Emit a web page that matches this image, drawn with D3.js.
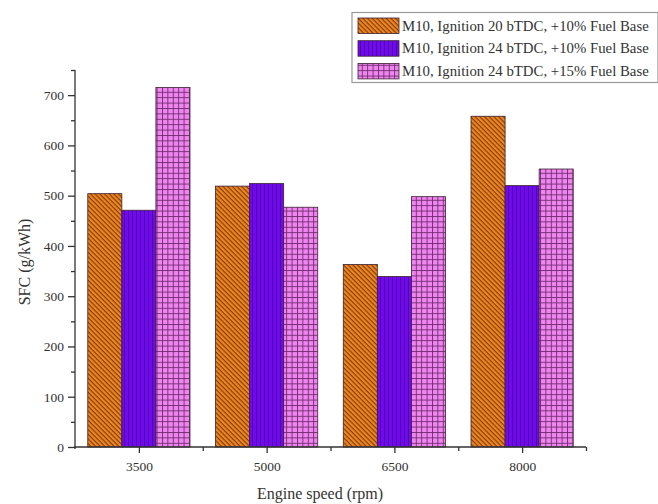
<!DOCTYPE html>
<html><head><meta charset="utf-8">
<script src="https://cdn.jsdelivr.net/npm/d3@7"></script>
<style>body{margin:0;background:#fff}svg{display:block}text{font-family:"Liberation Serif","Times New Roman",serif;}</style>
</head><body>
<svg id="c" width="658" height="504"></svg>
<script>
const categories = [3500, 5000, 6500, 8000];
const seriesNames = [
  "M10, Ignition 20 bTDC, +10% Fuel Base",
  "M10, Ignition 24 bTDC, +10% Fuel Base",
  "M10, Ignition 24 bTDC, +15% Fuel Base"
];
const series1 = [504, 519, 363, 658];
const series2 = [471, 524, 339, 520];
const series3 = [715, 477, 498, 553];
const yTicks = [0, 100, 200, 300, 400, 500, 600, 700];
const yMinorTicks = [50, 150, 250, 350, 450, 550, 650, 750];
const xMinorTicks = [4250, 5750, 7250, 8750];
const allSeries = [series1, series2, series3];

const svg = d3.select("#c");
const x = d3.scaleLinear().domain([2750, 8750]).range([75, 586]);
const y = d3.scaleLinear().domain([0, 750]).range([447, 70]);
const barW = 400; // in rpm units

const defs = svg.append("defs");
// orange diagonal hatch
const p1 = defs.append("pattern").attr("id","p0").attr("patternUnits","userSpaceOnUse")
  .attr("width",3.3).attr("height",3.3).attr("patternTransform","rotate(45)");
p1.append("rect").attr("width",3.3).attr("height",3.3).attr("fill","#f08620");
p1.append("line").attr("x1",0).attr("x2",3.3).attr("y1",0.6).attr("y2",0.6).attr("stroke","#6e3208").attr("stroke-width",1);
// purple vertical lines
const p2 = defs.append("pattern").attr("id","p1").attr("patternUnits","userSpaceOnUse")
  .attr("width",4).attr("height",4);
p2.append("rect").attr("width",4).attr("height",4).attr("fill","#7108f0");
p2.append("line").attr("x1",0.5).attr("x2",0.5).attr("y1",0).attr("y2",4).attr("stroke","#4a049e").attr("stroke-width",0.9);
// pink grid
const p3 = defs.append("pattern").attr("id","p2").attr("patternUnits","userSpaceOnUse")
  .attr("width",5.4).attr("height",5.4);
p3.append("rect").attr("width",5.4).attr("height",5.4).attr("fill","#ef85ee");
p3.append("path").attr("d","M0.5,0V5.4M0,0.5H5.4").attr("stroke","#6e2a6e").attr("stroke-width",0.9).attr("fill","none");

// bars
allSeries.forEach((vals, si) => {
  svg.append("g").selectAll("rect").data(categories).join("rect")
    .attr("x", (c) => x(c + (si - 1.5) * barW))
    .attr("width", x(barW) - x(0))
    .attr("y", (c, i) => y(vals[i]))
    .attr("height", (c, i) => y(0) - y(vals[i]))
    .attr("fill", `url(#p${si})`)
    .attr("stroke", "#3a2030").attr("stroke-width", 0.8);
});

// y axis
const gy = svg.append("g").attr("transform","translate(75,0)")
  .call(d3.axisLeft(y).tickValues(yTicks).tickSize(7).tickPadding(4));
svg.append("g").attr("transform","translate(75,0)")
  .call(d3.axisLeft(y).tickValues(yMinorTicks).tickSize(4).tickFormat(""))
  .select(".domain").remove();
gy.select(".domain").attr("d","M0,70V449");
// x axis
const gx = svg.append("g").attr("transform","translate(0,447)")
  .call(d3.axisBottom(x).tickValues(categories).tickSize(6).tickPadding(8).tickFormat(d3.format("d")));
svg.append("g").attr("transform","translate(0,447)")
  .call(d3.axisBottom(x).tickValues(xMinorTicks).tickSize(4).tickFormat(""))
  .select(".domain").remove();
gx.select(".domain").attr("d","M74,0H586");
svg.selectAll(".tick text").attr("font-size",13.5).attr("fill","#333").attr("font-family","Liberation Serif");
svg.selectAll(".domain, .tick line").attr("stroke","#333").attr("stroke-width",1.3);

// axis titles
svg.append("text").attr("transform","translate(30,262) rotate(-90)").attr("text-anchor","middle")
  .attr("font-size",16).attr("fill","#333").text("SFC (g/kWh)");
svg.append("text").attr("x",320).attr("y",499).attr("text-anchor","middle")
  .attr("font-size",16).attr("fill","#333").text("Engine speed (rpm)");

// legend
const lg = svg.append("g");
lg.append("rect").attr("x",352).attr("y",12.5).attr("width",306).attr("height",70)
  .attr("fill","#fff").attr("stroke","#999").attr("stroke-width",1.2);
seriesNames.forEach((n, i) => {
  const yy = 18 + i * 22.7;
  lg.append("rect").attr("x",358).attr("y",yy).attr("width",41).attr("height",15.5)
    .attr("fill",`url(#p${i})`).attr("stroke","#3a2030").attr("stroke-width",0.8);
  lg.append("text").attr("x",402).attr("y",yy+12.5).attr("font-size",14.8).attr("fill","#333").text(n);
});
</script>
</body></html>
